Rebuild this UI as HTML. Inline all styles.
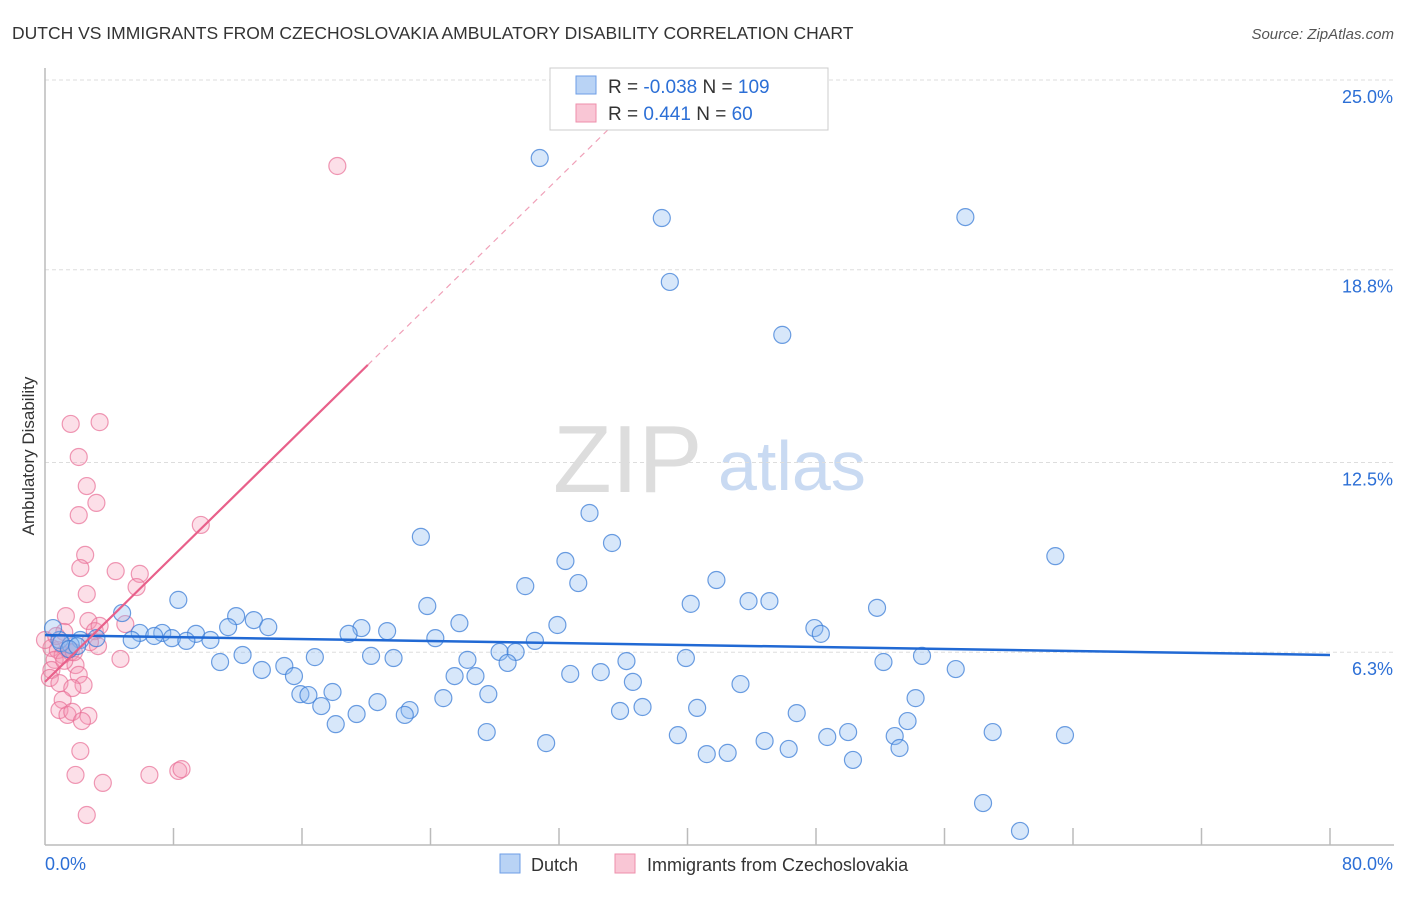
<!DOCTYPE html>
<html><head><meta charset="utf-8"><style>
body{margin:0;background:#fff;font-family:"Liberation Sans",sans-serif}
svg text{font-family:"Liberation Sans",sans-serif}
</style></head><body>
<svg id="chart" width="1406" height="892" xmlns="http://www.w3.org/2000/svg">
<text x="12" y="39" font-size="17.5" fill="#333">DUTCH VS IMMIGRANTS FROM CZECHOSLOVAKIA AMBULATORY DISABILITY CORRELATION CHART</text>
<text x="1394" y="39" font-size="15" fill="#555" font-style="italic" text-anchor="end">Source: ZipAtlas.com</text>
<g>
<text x="553" y="492" font-size="96" fill="#ddd" font-family="Liberation Serif">ZIP</text>
<text x="718" y="490" font-size="70" fill="#c9daf2">atlas</text>
</g>
<g id="grid"></g>
<g id="axes"></g>
<text x="34" y="456" font-size="17" fill="#333" text-anchor="middle" transform="rotate(-90 34 456)">Ambulatory Disability</text>
<g id="pts"></g>
<g id="trends"></g>
<g>
<rect x="550" y="68" width="278" height="62" fill="#fff" stroke="#ccc"/>
<rect x="576" y="76" width="20" height="18" fill="#b9d3f5" stroke="#6d9ee6"/>
<rect x="576" y="104" width="20" height="18" fill="#f9c6d5" stroke="#ee8fab"/>
<text x="608" y="93" font-size="19" fill="#333">R = <tspan fill="#2c6fd6">-0.038</tspan>    N = <tspan fill="#2c6fd6">109</tspan></text>
<text x="608" y="120" font-size="19" fill="#333">R =   <tspan fill="#2c6fd6">0.441</tspan>    N =   <tspan fill="#2c6fd6">60</tspan></text>
</g>
<g>
<rect x="500" y="854" width="20" height="19" fill="#b9d3f5" stroke="#6d9ee6"/>
<text x="531" y="871" font-size="18" fill="#333">Dutch</text>
<rect x="615" y="854" width="20" height="19" fill="#f9c6d5" stroke="#ee8fab"/>
<text x="647" y="871" font-size="18" fill="#333">Immigrants from Czechoslovakia</text>
</g>
</svg>
<script>
const yTicks=[25.0,18.8,12.5,6.3];
const yTickLabels=["25.0%","18.8%","12.5%","6.3%"];
const xTickLabels=["0.0%","80.0%"];
const dutchX=[30.8,38.4,57.3,38.9,45.9,23.4,33.9,35.3,62.9,32.4,29.9,33.2,41.8,8.3,23.8,40.2,43.8,45.1,51.8,4.8,11.9,13.0,13.9,11.4,25.8,31.9,19.7,21.3,18.9,47.9,48.3,5.9,7.3,6.8,9.4,7.9,5.4,8.8,10.3,24.3,30.5,3.2,2.2,0.9,0.5,1.6,28.3,29.3,28.8,26.3,12.3,16.8,20.3,21.7,36.2,39.9,54.6,10.9,52.2,56.7,13.5,14.9,32.7,34.6,25.5,26.8,15.5,36.6,15.9,16.4,43.3,27.6,17.9,20.7,24.8,54.2,17.2,22.7,22.4,35.8,37.2,40.6,46.8,19.4,18.1,53.7,27.5,39.4,31.2,44.8,50.0,48.7,52.9,59.0,63.5,41.2,42.5,46.3,53.2,50.3,58.4,60.7,1.0,1.5,2.0];
const dutchY=[22.45,20.49,20.52,18.40,16.67,10.07,10.85,9.87,9.44,9.28,8.46,8.56,8.66,8.01,7.81,7.88,7.97,7.97,7.75,7.58,7.48,7.35,7.12,7.12,7.25,7.19,7.09,6.99,6.90,7.09,6.90,6.93,6.93,6.83,6.90,6.76,6.70,6.67,6.70,6.76,6.67,6.76,6.70,6.70,7.09,6.54,6.31,6.31,5.95,6.05,6.21,6.14,6.18,6.11,6.01,6.11,6.18,5.98,5.98,5.75,5.72,5.85,5.59,5.65,5.52,5.52,5.52,5.33,4.93,4.90,5.26,4.93,5.00,4.67,4.80,4.80,4.54,4.41,4.25,4.38,4.51,4.48,4.31,4.28,3.95,4.05,3.69,3.59,3.33,3.40,3.69,3.53,3.56,3.69,3.59,2.97,3.01,3.14,3.17,2.78,1.37,0.46,6.6,6.4,6.5];
const czX=[18.2,1.6,3.4,2.1,2.6,3.2,2.1,9.7,2.5,2.2,4.4,5.9,2.6,5.7,1.3,2.7,3.1,1.2,5.0,3.4,0.4,0.8,1.1,1.6,1.9,0.6,0.4,0.3,0.9,2.1,2.4,1.7,1.1,0.9,1.4,1.7,2.7,2.3,4.7,2.2,1.9,3.6,6.5,8.3,8.5,2.6,3.3,2.8,0.0,0.7,1.2,1.5,1.8];
const czY=[22.19,13.76,13.82,12.68,11.73,11.18,10.78,10.46,9.48,9.05,8.95,8.86,8.20,8.43,7.48,7.32,6.99,6.96,7.22,7.16,6.44,6.37,6.21,6.31,5.88,6.05,5.72,5.46,5.29,5.56,5.23,5.13,4.74,4.41,4.25,4.35,4.22,4.05,6.08,3.07,2.29,2.03,2.29,2.42,2.48,0.98,6.50,6.63,6.70,6.83,6.02,6.4,6.3];
const dutchTrend=[6.86,6.21];
const czTrend=[5.33,15.69,23.4];
const czTrendX=[0,20.1,35.1];
const NS="http://www.w3.org/2000/svg";
const xs=v=>45+v*16.0625, ys=v=>80+(25-v)*30.6;
function mk(tag,attrs,parent){const e=document.createElementNS(NS,tag);for(const k in attrs)e.setAttribute(k,attrs[k]);parent.appendChild(e);return e;}
const grid=document.getElementById('grid'),axes=document.getElementById('axes'),pts=document.getElementById('pts'),tr=document.getElementById('trends');
yTicks.forEach((t,i)=>{
 const l=mk('line',{x1:45,x2:1394,y1:ys(t),y2:ys(t),stroke:'#ddd','stroke-dasharray':'4,3'},grid);
 
 
 const tx=mk('text',{x:1393,y:ys(t)+23,'font-size':18,fill:'#2c6fd6','text-anchor':'end'},grid);
 tx.textContent=yTickLabels[i];
 
 
});
const a1=mk('line',{x1:45,x2:45,y1:68,y2:845,stroke:'#bbb','stroke-width':1.5},axes);


const a2=mk('line',{x1:45,x2:1394,y1:845,y2:845,stroke:'#bbb','stroke-width':1.5},axes);


for(let i=1;i<=10;i++){const x=xs(i*8);const t=mk('line',{x1:x,x2:x,y1:828,y2:845,stroke:'#bbb','stroke-width':1.5},axes);
 
 }
[[0,'start',45],[80,'end',1393]].forEach((d,i)=>{const t=mk('text',{x:d[2],y:870,'font-size':18,fill:'#2c6fd6','text-anchor':d[1]},axes);t.textContent=xTickLabels[i];
 
 });
czX.forEach((x,i)=>{const c=mk('circle',{cx:xs(x),cy:ys(czY[i]),r:8.5,fill:'rgba(245,150,180,0.3)',stroke:'rgba(232,110,150,0.7)','stroke-width':1.2},pts);
 
 });
dutchX.forEach((x,i)=>{const c=mk('circle',{cx:xs(x),cy:ys(dutchY[i]),r:8.5,fill:'rgba(140,185,240,0.35)',stroke:'rgba(60,125,215,0.75)','stroke-width':1.2},pts);
 
 });
const bl=mk('line',{x1:xs(0),y1:ys(dutchTrend[0]),x2:xs(80),y2:ys(dutchTrend[1]),stroke:'#2169d4','stroke-width':2.5},tr);


const pl=mk('line',{x1:xs(czTrendX[0]),y1:ys(czTrend[0]),x2:xs(czTrendX[1]),y2:ys(czTrend[1]),stroke:'#e8608a','stroke-width':2.2},tr);


const pd=mk('line',{x1:xs(czTrendX[1]),y1:ys(czTrend[1]),x2:xs(czTrendX[2]),y2:ys(czTrend[2]),stroke:'#f0a0b8','stroke-width':1.2,'stroke-dasharray':'6,5'},tr);


</script>
</body></html>
